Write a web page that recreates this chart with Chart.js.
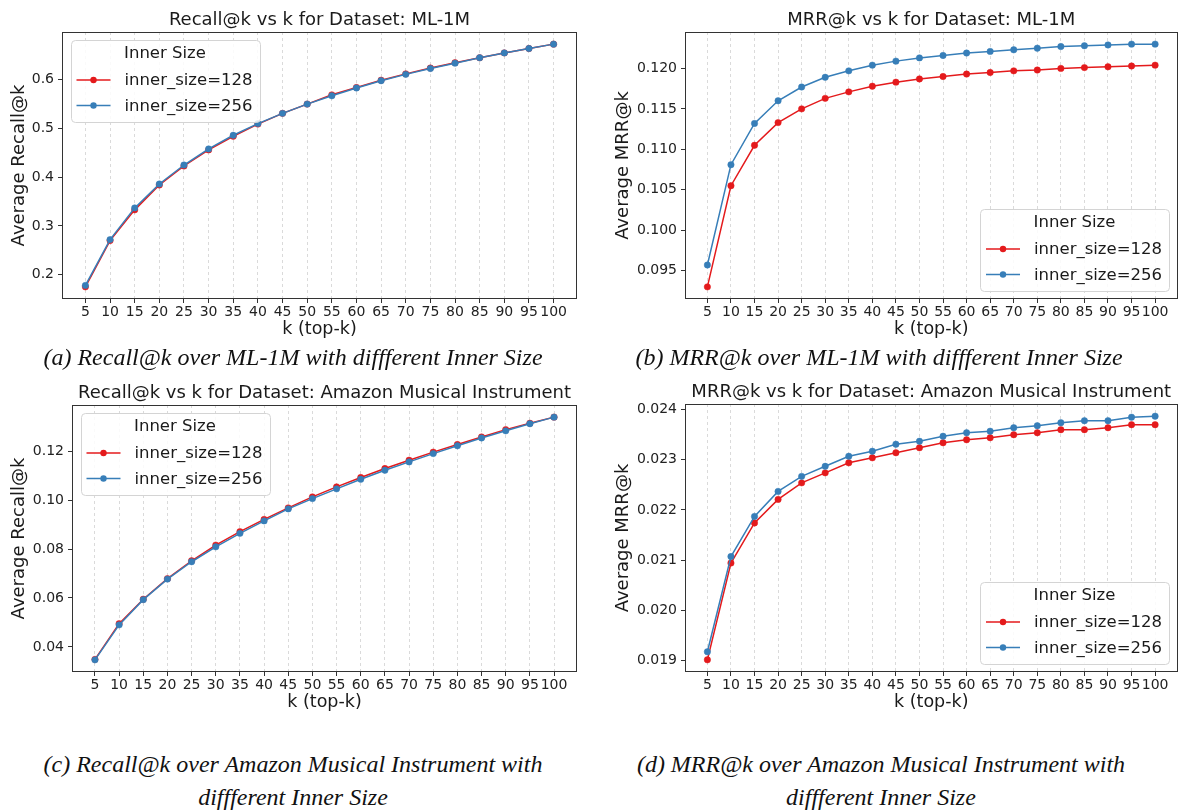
<!DOCTYPE html>
<html>
<head>
<meta charset="utf-8">
<title>Recall@k / MRR@k vs k</title>
<script src="https://cdn.jsdelivr.net/npm/chart.js@4.4.1/dist/chart.umd.min.js"></script>
<style>
  body { margin: 0; background: #fff; width: 1182px; height: 810px; position: relative; overflow: hidden; }
  .plot { position: absolute; }
  .cap {
    position: absolute; transform: translateX(-50%); white-space: nowrap; text-align: center;
    font-family: "Liberation Serif", "Times New Roman", serif; font-style: italic;
    font-size: 24px; line-height: 33px; color: #111;
  }
</style>
</head>
<body>
<div class="plot" style="left:0;top:0;width:590px;height:344px"><canvas id="chartRecallMl"></canvas></div>
<div class="plot" style="left:590px;top:0;width:592px;height:344px"><canvas id="chartMrrMl"></canvas></div>
<div class="plot" style="left:0;top:372px;width:590px;height:345px"><canvas id="chartRecallAmz"></canvas></div>
<div class="plot" style="left:590px;top:372px;width:592px;height:345px"><canvas id="chartMrrAmz"></canvas></div>

<div class="cap" style="left:293px;top:341px">(a) Recall@k over ML-1M with diffferent Inner Size</div>
<div class="cap" style="left:879px;top:341px">(b) MRR@k over ML-1M with diffferent Inner Size</div>
<div class="cap" style="left:293px;top:748px">(c) Recall@k over Amazon Musical Instrument with<br>diffferent Inner Size</div>
<div class="cap" style="left:881px;top:748px">(d) MRR@k over Amazon Musical Instrument with<br>diffferent Inner Size</div>

<script>
// data
const kValues = [5, 10, 15, 20, 25, 30, 35, 40, 45, 50, 55, 60, 65, 70, 75, 80, 85, 90, 95, 100];
const seriesLabels = ['inner_size=128', 'inner_size=256'];
const seriesColors = ['#e41a1c', '#377eb8'];

const recallMl128 = [0.175, 0.270, 0.333, 0.384, 0.423, 0.456, 0.484, 0.509, 0.531, 0.550, 0.569, 0.584, 0.599, 0.612, 0.624, 0.635, 0.645, 0.655, 0.664, 0.673];
const recallMl256 = [0.178, 0.272, 0.337, 0.386, 0.425, 0.458, 0.486, 0.510, 0.531, 0.550, 0.567, 0.583, 0.598, 0.611, 0.623, 0.634, 0.645, 0.655, 0.664, 0.673];

const mrrMl128 = [0.0930, 0.1055, 0.1105, 0.1133, 0.1150, 0.1163, 0.1171, 0.1178, 0.1183, 0.1187, 0.1190, 0.1193, 0.1195, 0.1197, 0.1198, 0.1200, 0.1201, 0.1202, 0.1203, 0.1204];
const mrrMl256 = [0.0957, 0.1081, 0.1132, 0.1160, 0.1177, 0.1189, 0.1197, 0.1204, 0.1209, 0.1213, 0.1216, 0.1219, 0.1221, 0.1223, 0.1225, 0.1227, 0.1228, 0.1229, 0.1230, 0.1230];

const recallAmz128 = [0.0349, 0.0495, 0.0595, 0.0679, 0.0752, 0.0816, 0.0871, 0.0921, 0.0968, 0.1013, 0.1054, 0.1092, 0.1129, 0.1163, 0.1196, 0.1227, 0.1258, 0.1288, 0.1314, 0.1339];
const recallAmz256 = [0.0347, 0.0490, 0.0593, 0.0677, 0.0748, 0.0809, 0.0864, 0.0915, 0.0964, 0.1006, 0.1046, 0.1085, 0.1122, 0.1156, 0.1190, 0.1222, 0.1254, 0.1283, 0.1312, 0.1339];

const mrrAmz128 = [0.01901, 0.02094, 0.02174, 0.02221, 0.02254, 0.02274, 0.02294, 0.02304, 0.02314, 0.02324, 0.02334, 0.02340, 0.02344, 0.02350, 0.02354, 0.02360, 0.02360, 0.02364, 0.02370, 0.02370];
const mrrAmz256 = [0.01917, 0.02107, 0.02187, 0.02237, 0.02267, 0.02287, 0.02307, 0.02317, 0.02331, 0.02337, 0.02347, 0.02354, 0.02357, 0.02364, 0.02368, 0.02374, 0.02378, 0.02378, 0.02385, 0.02387];

const recallMlTicks = [0.2, 0.3, 0.4, 0.5, 0.6];
const mrrMlTicks = [0.095, 0.100, 0.105, 0.110, 0.115, 0.120];
const recallAmzTicks = [0.04, 0.06, 0.08, 0.10, 0.12];
const mrrAmzTicks = [0.019, 0.020, 0.021, 0.022, 0.023, 0.024];

const FONT = '"DejaVu Sans", sans-serif';

// matplotlib style frame, title and in-axes legend
const mplDecor = {
    id: 'mplDecor',
    afterDraw(chart, args, opts) {
        const ctx = chart.ctx;
        const a = chart.chartArea;
        ctx.save();
        ctx.strokeStyle = '#333';
        ctx.lineWidth = 1;
        ctx.strokeRect(Math.round(a.left) + 0.5, Math.round(a.top) + 0.5, Math.round(a.width) - 1, Math.round(a.height) - 1);

        ctx.fillStyle = '#1a1a1a';
        ctx.font = '18px ' + FONT;
        ctx.textAlign = 'center';
        ctx.textBaseline = 'middle';
        ctx.fillText(opts.title, (a.left + a.right) / 2, a.top - 12);

        // legend box
        ctx.font = '16.5px ' + FONT;
        const sets = chart.data.datasets;
        const textW = Math.max(...sets.map(d => ctx.measureText(d.label).width));
        const w = 54 + textW + 7, h = 82;
        let x, y;
        if (opts.corner === 'tl') { x = a.left + 8.5; y = a.top + 8; }
        else { x = a.right - 8.5 - w; y = a.bottom - 8 - h; }
        ctx.beginPath();
        ctx.roundRect(Math.round(x) + 0.5, Math.round(y) + 0.5, Math.round(w), h, 4);
        ctx.fillStyle = 'rgba(255,255,255,0.85)';
        ctx.fill();
        ctx.strokeStyle = '#d4d4d4';
        ctx.stroke();

        ctx.fillStyle = '#1a1a1a';
        ctx.textAlign = 'center';
        ctx.fillText('Inner Size', x + w / 2, y + 14);
        ctx.textAlign = 'left';
        sets.forEach((d, i) => {
            const cy = y + 40 + i * 25.5;
            ctx.strokeStyle = d.borderColor;
            ctx.lineWidth = 1.5;
            ctx.beginPath();
            ctx.moveTo(x + 6, cy);
            ctx.lineTo(x + 40, cy);
            ctx.stroke();
            ctx.fillStyle = d.borderColor;
            ctx.beginPath();
            ctx.arc(x + 23, cy, 3.2, 0, Math.PI * 2);
            ctx.fill();
            ctx.fillStyle = '#1a1a1a';
            ctx.fillText(d.label, x + 54, cy + 1);
        });
        ctx.restore();
    }
};

function paddedRange(a, b) {
    const all = a.concat(b);
    const lo = Math.min(...all), hi = Math.max(...all);
    const pad = (hi - lo) * 0.05;
    return [lo - pad, hi + pad];
}

function makeChart(id, cfg) {
    const [yMin, yMax] = paddedRange(cfg.s128, cfg.s256);
    const kPad = (kValues[kValues.length - 1] - kValues[0]) * 0.05;
    const values = [cfg.s128, cfg.s256];
    return new Chart(document.getElementById(id), {
        type: 'line',
        data: {
            datasets: values.map((vals, i) => ({
                label: seriesLabels[i],
                data: kValues.map((k, j) => ({ x: k, y: vals[j] })),
                borderColor: seriesColors[i],
                backgroundColor: seriesColors[i],
                pointBackgroundColor: seriesColors[i],
                pointBorderColor: seriesColors[i],
                borderWidth: 1.5,
                pointRadius: 3.2,
                pointBorderWidth: 0.5,
                tension: 0,
                order: 1 - i
            }))
        },
        options: {
            responsive: true,
            maintainAspectRatio: false,
            animation: false,
            devicePixelRatio: 1,
            events: [],
            layout: { padding: { top: cfg.padTop, right: cfg.padRight, bottom: 0, left: 0 } },
            plugins: {
                legend: { display: false },
                title: { display: false },
                tooltip: { enabled: false },
                mplDecor: { title: cfg.title, corner: cfg.corner }
            },
            scales: {
                x: {
                    type: 'linear',
                    min: kValues[0] - kPad,
                    max: kValues[kValues.length - 1] + kPad,
                    afterBuildTicks: s => { s.ticks = kValues.map(v => ({ value: v })); },
                    afterFit: s => { s.height = 45; },
                    ticks: {
                        autoSkip: false, maxRotation: 0, minRotation: 0, padding: 1,
                        color: '#222', font: { family: FONT, size: 14 },
                        callback: v => String(v)
                    },
                    grid: {
                        drawOnChartArea: true, color: 'rgba(170,170,170,0.55)', lineWidth: 0.8,
                        borderDash: [3, 3], drawTicks: true, tickLength: 4,
                        tickColor: '#333', tickWidth: 1, tickBorderDash: []
                    },
                    border: { display: false, dash: [3, 3] },
                    title: {
                        display: true, text: 'k (top-k)', color: '#1a1a1a',
                        font: { family: FONT, size: 17.5 }, padding: { top: 0, bottom: 4.5 }
                    }
                },
                y: {
                    type: 'linear',
                    min: yMin,
                    max: yMax,
                    afterBuildTicks: s => { s.ticks = cfg.yTicks.map(v => ({ value: v })); },
                    afterFit: s => { s.width = cfg.yWidth; },
                    ticks: {
                        padding: 4, color: '#222', font: { family: FONT, size: 14 },
                        callback: v => v.toFixed(cfg.dec)
                    },
                    grid: {
                        drawOnChartArea: false, drawTicks: true, tickLength: 4,
                        tickColor: '#333', tickWidth: 1
                    },
                    border: { display: false },
                    title: {
                        display: true, text: cfg.yTitle, color: '#1a1a1a',
                        font: { family: FONT, size: 18 }, padding: { top: cfg.yTitleX - 10.8, bottom: 0 }
                    }
                }
            }
        },
        plugins: [mplDecor]
    });
}

makeChart('chartRecallMl', {
    title: 'Recall@k vs k for Dataset: ML-1M', yTitle: 'Average Recall@k',
    s128: recallMl128, s256: recallMl256, yTicks: recallMlTicks, dec: 1,
    corner: 'tl', padTop: 32, padRight: 13, yWidth: 62, yTitleX: 19
});
makeChart('chartMrrMl', {
    title: 'MRR@k vs k for Dataset: ML-1M', yTitle: 'Average MRR@k',
    s128: mrrMl128, s256: mrrMl256, yTicks: mrrMlTicks, dec: 3,
    corner: 'br', padTop: 32, padRight: 2, yWidth: 95, yTitleX: 33
});
makeChart('chartRecallAmz', {
    title: 'Recall@k vs k for Dataset: Amazon Musical Instrument', yTitle: 'Average Recall@k',
    s128: recallAmz128, s256: recallAmz256, yTicks: recallAmzTicks, dec: 2,
    corner: 'tl', padTop: 33, padRight: 13, yWidth: 72, yTitleX: 19
});
makeChart('chartMrrAmz', {
    title: 'MRR@k vs k for Dataset: Amazon Musical Instrument', yTitle: 'Average MRR@k',
    s128: mrrAmz128, s256: mrrAmz256, yTicks: mrrAmzTicks, dec: 3,
    corner: 'br', padTop: 32, padRight: 2, yWidth: 95, yTitleX: 33
});
</script>
</body>
</html>
